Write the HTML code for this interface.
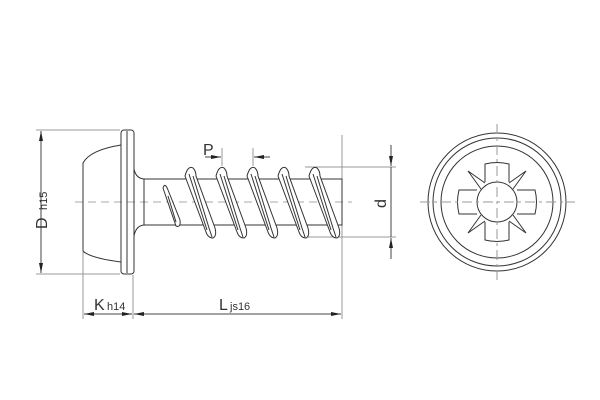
<!DOCTYPE html>
<html><head><meta charset="utf-8"><style>
html,body{margin:0;padding:0;background:#fff}
svg{display:block}
text{font-family:"Liberation Sans",sans-serif;fill:#333}
</style></head><body>
<svg width="600" height="400" viewBox="0 0 600 400" xmlns="http://www.w3.org/2000/svg">
<defs>
<marker id="a" viewBox="0 0 10 4" refX="10" refY="2" markerWidth="10" markerHeight="4" orient="auto-start-reverse" markerUnits="userSpaceOnUse"><path d="M0,0 L10,2 L0,4z" fill="#222"/></marker>
<g id="th" fill="#fff" stroke="#333" stroke-width="1">
<path d="M-5,176 Q-2,165 3,168 Q6,171 6,176 L25,228 Q27,236 23,238 Q18,238 16,232 Z"/>
<path d="M3,176 L19,228 Q21,234 22,237" fill="none"/>
<path d="M-1,174 L17,230" fill="none"/>
</g>
</defs>
<g stroke="#999" stroke-width="1" fill="none">
<line x1="36" y1="130" x2="120" y2="130"/>
<line x1="36" y1="274" x2="120" y2="274"/>
<line x1="83" y1="252" x2="83" y2="319"/>
<line x1="133" y1="275" x2="133" y2="319"/>
<line x1="342" y1="135" x2="342" y2="319"/>
<line x1="305" y1="167" x2="396" y2="167"/>
<line x1="305" y1="237" x2="396" y2="237"/>
<line x1="222" y1="148" x2="222" y2="166"/>
<line x1="253" y1="148" x2="253" y2="166"/>
</g>
<g stroke="#444" stroke-width="1" fill="none">
<line x1="41" y1="131" x2="41" y2="273" marker-start="url(#a)" marker-end="url(#a)"/>
<line x1="84" y1="314" x2="132" y2="314" marker-start="url(#a)" marker-end="url(#a)"/>
<line x1="134" y1="314" x2="341" y2="314" marker-start="url(#a)" marker-end="url(#a)"/>
<line x1="391" y1="145" x2="391" y2="166" marker-end="url(#a)"/>
<line x1="391" y1="259" x2="391" y2="238" marker-end="url(#a)"/>
<line x1="391" y1="167" x2="391" y2="237"/>
<line x1="205" y1="157" x2="221" y2="157" marker-end="url(#a)"/>
<line x1="270" y1="157" x2="254" y2="157" marker-end="url(#a)"/>
</g>
<line x1="75" y1="202" x2="352" y2="202" stroke="#aaa" stroke-dasharray="8,5"/>
<g stroke="#333" stroke-width="1" fill="none">
<path d="M121,145 Q90,150 83,163 L83,251 Q90,258 121,262"/>
<rect x="121" y="130" width="13" height="144" rx="3"/>
<line x1="127" y1="131" x2="127" y2="273"/>
<path d="M134,169 Q136,179 145,179 L342,179 L342,225 L145,225 Q136,225 134,236"/>
<line x1="144" y1="179" x2="144" y2="225"/>
<path d="M163,188 Q165,182 168,190 L180,220 Q181,228 176,226 Z" fill="#fff"/>
<path d="M168,196 L176,222"/>
</g>
<use href="#th" x="190"/><use href="#th" x="221"/><use href="#th" x="252"/><use href="#th" x="283"/><use href="#th" x="314"/>
<text x="0" y="0" font-size="16" transform="translate(47,229) rotate(-90)">D</text>
<text x="0" y="0" font-size="11" transform="translate(47,210) rotate(-90)">h15</text>
<text x="94" y="310" font-size="16">K</text>
<text x="107" y="310" font-size="11">h14</text>
<text x="219" y="310" font-size="16">L</text>
<text x="230" y="310" font-size="11">js16</text>
<text x="203" y="155" font-size="16">P</text>
<text x="0" y="0" font-size="16" transform="translate(386,208) rotate(-90)">d</text>
<g stroke="#333" stroke-width="1" fill="none">
<circle cx="497" cy="202" r="69"/>
<circle cx="497" cy="202" r="64"/>
<circle cx="497" cy="202" r="56"/>
<path d="M485,182 L485,164 Q497,161 509,164 L509,182 M517,190 L535,190 Q538,202 535,214 L517,214 M509,222 L509,240 Q497,243 485,240 L485,222 M477,214 L459,214 Q456,202 459,190 L477,190"/>
<circle cx="497" cy="202" r="20"/>
<path d="M481,189 L468,171 L485,183 M513,189 L526,171 L509,183 M481,215 L468,233 L485,221 M513,215 L526,233 L509,221"/>
</g>
<g stroke="#999" stroke-dasharray="10,4,3,4">
<line x1="497" y1="124" x2="497" y2="280"/>
<line x1="420" y1="202" x2="575" y2="202"/>
</g>
</svg>
</body></html>
